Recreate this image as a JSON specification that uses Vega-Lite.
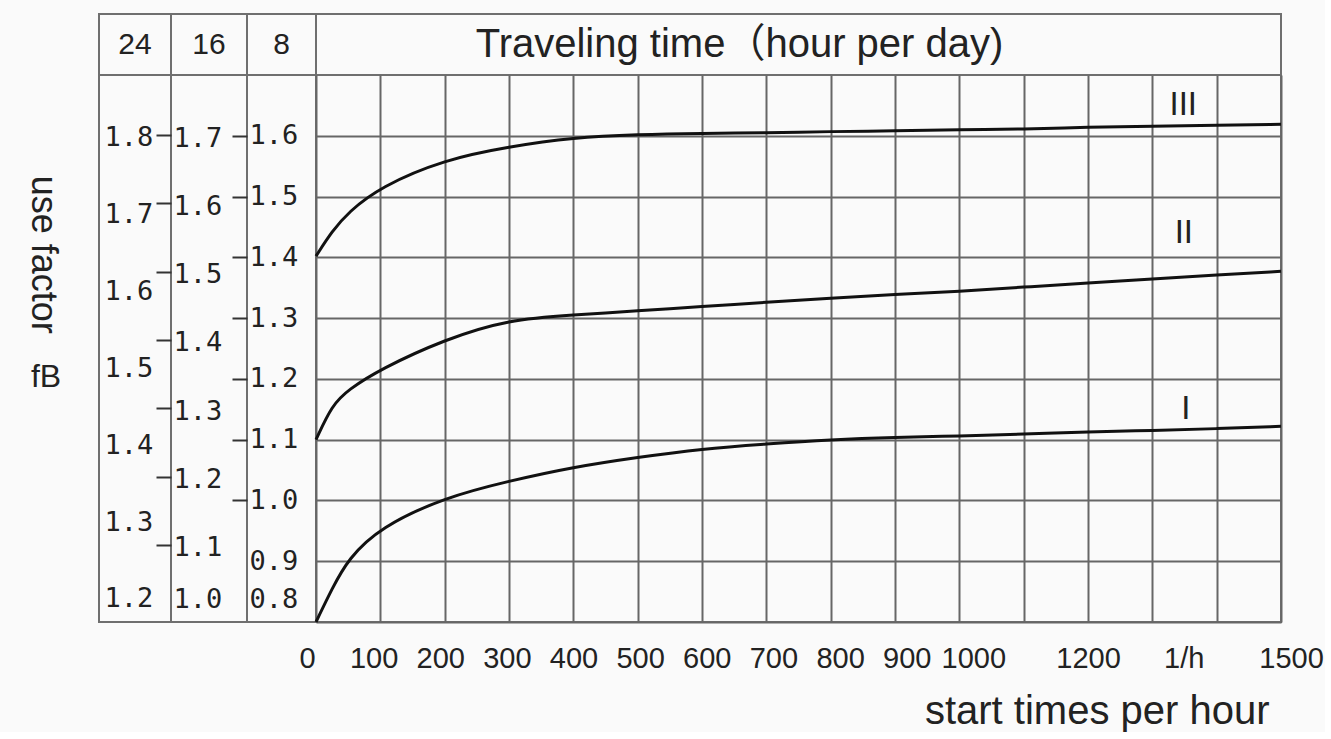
{
  "$schema": "https://vega.github.io/schema/vega-lite/v6.json",
  "background": "#fafafa",
  "padding": {"left": 0, "top": 13, "right": 0, "bottom": 0},
  "columns": 5,
  "spacing": 0,
  "bounds": "flush",
  "config": {
    "view": {"stroke": "#6f6f6f", "strokeWidth": 2},
    "font": "Liberation Sans"
  },
  "datasets": {
    "curves": [
      {"series": "III", "start": 0, "fB": 1.402},
      {"series": "III", "start": 25, "fB": 1.443},
      {"series": "III", "start": 50, "fB": 1.474},
      {"series": "III", "start": 100, "fB": 1.516},
      {"series": "III", "start": 200, "fB": 1.561},
      {"series": "III", "start": 300, "fB": 1.582},
      {"series": "III", "start": 400, "fB": 1.597},
      {"series": "III", "start": 500, "fB": 1.602},
      {"series": "III", "start": 600, "fB": 1.604},
      {"series": "III", "start": 700, "fB": 1.605},
      {"series": "III", "start": 800, "fB": 1.607},
      {"series": "III", "start": 900, "fB": 1.608},
      {"series": "III", "start": 1000, "fB": 1.610},
      {"series": "III", "start": 1100, "fB": 1.611},
      {"series": "III", "start": 1200, "fB": 1.614},
      {"series": "III", "start": 1300, "fB": 1.616},
      {"series": "III", "start": 1400, "fB": 1.617},
      {"series": "III", "start": 1500, "fB": 1.619},
      {"series": "II", "start": 0, "fB": 1.100},
      {"series": "II", "start": 25, "fB": 1.157},
      {"series": "II", "start": 50, "fB": 1.182},
      {"series": "II", "start": 100, "fB": 1.216},
      {"series": "II", "start": 200, "fB": 1.265},
      {"series": "II", "start": 300, "fB": 1.298},
      {"series": "II", "start": 400, "fB": 1.305},
      {"series": "II", "start": 500, "fB": 1.312},
      {"series": "II", "start": 600, "fB": 1.319},
      {"series": "II", "start": 700, "fB": 1.326},
      {"series": "II", "start": 800, "fB": 1.333},
      {"series": "II", "start": 900, "fB": 1.339},
      {"series": "II", "start": 1000, "fB": 1.344},
      {"series": "II", "start": 1100, "fB": 1.351},
      {"series": "II", "start": 1200, "fB": 1.358},
      {"series": "II", "start": 1300, "fB": 1.364},
      {"series": "II", "start": 1400, "fB": 1.371},
      {"series": "II", "start": 1500, "fB": 1.377},
      {"series": "I", "start": 0, "fB": 0.800},
      {"series": "I", "start": 25, "fB": 0.855},
      {"series": "I", "start": 50, "fB": 0.904},
      {"series": "I", "start": 100, "fB": 0.956},
      {"series": "I", "start": 200, "fB": 1.005},
      {"series": "I", "start": 300, "fB": 1.032},
      {"series": "I", "start": 400, "fB": 1.055},
      {"series": "I", "start": 500, "fB": 1.071},
      {"series": "I", "start": 600, "fB": 1.085},
      {"series": "I", "start": 700, "fB": 1.093},
      {"series": "I", "start": 800, "fB": 1.100},
      {"series": "I", "start": 900, "fB": 1.104},
      {"series": "I", "start": 1000, "fB": 1.106},
      {"series": "I", "start": 1100, "fB": 1.109},
      {"series": "I", "start": 1200, "fB": 1.113},
      {"series": "I", "start": 1300, "fB": 1.115},
      {"series": "I", "start": 1400, "fB": 1.118},
      {"series": "I", "start": 1500, "fB": 1.122}
    ],
    "curveLabels": [
      {"series": "III", "start": 1348, "fB": 1.651},
      {"series": "II", "start": 1349, "fB": 1.440},
      {"series": "I", "start": 1352, "fB": 1.150}
    ]
  },
  "concat": [
    {
      "width": 99, "height": 61,
      "view": {"stroke": null},
      "data": {"values": [{"label": ""}]},
      "mark": {"type": "text"},
      "encoding": {"text": {"field": "label"}}
    },
    {
      "width": 72, "height": 61,
      "data": {"values": [{"label": "24"}]},
      "mark": {"type": "text", "font": "Liberation Sans", "fontSize": 30, "color": "#222"},
      "encoding": {
        "y": {"field": "label", "type": "nominal", "axis": null},
        "text": {"field": "label"}
      }
    },
    {
      "width": 76, "height": 61,
      "data": {"values": [{"label": "16"}]},
      "mark": {"type": "text", "font": "Liberation Sans", "fontSize": 30, "color": "#222"},
      "encoding": {
        "y": {"field": "label", "type": "nominal", "axis": null},
        "text": {"field": "label"}
      }
    },
    {
      "width": 69, "height": 61,
      "data": {"values": [{"label": "8"}]},
      "mark": {"type": "text", "font": "Liberation Sans", "fontSize": 30, "color": "#222"},
      "encoding": {
        "y": {"field": "label", "type": "nominal", "axis": null},
        "text": {"field": "label"}
      }
    },
    {
      "width": 965, "height": 61,
      "data": {"values": [{"label": "Traveling time（hour per day)"}]},
      "mark": {"type": "text", "font": "Liberation Sans, Noto Sans CJK JP", "fontSize": 40, "color": "#222", "dx": -59},
      "encoding": {
        "y": {"field": "label", "type": "nominal", "axis": null},
        "text": {"field": "label"}
      }
    },
    {
      "width": 99, "height": 547,
      "view": {"stroke": null},
      "layer": [
        {
          "data": {"values": [{"label": "use factor", "fB": 1.648}]},
          "mark": {"type": "text", "angle": 90, "fontSize": 36, "font": "Liberation Sans", "color": "#222", "dy": 7},
          "encoding": {
            "y": {"field": "fB", "type": "quantitative", "scale": {"domain": [1.17, 1.882], "nice": false, "zero": false}, "axis": null},
            "text": {"field": "label"}
          }
        },
        {
          "data": {"values": [{"label": "fB", "fB": 1.489}]},
          "mark": {"type": "text", "fontSize": 32, "font": "Liberation Sans", "color": "#222", "dx": -3.5},
          "encoding": {
            "y": {"field": "fB", "type": "quantitative"},
            "text": {"field": "label"}
          }
        }
      ]
    },
    {
      "width": 72, "height": 547,
      "data": {"values": [{"fB": 1.2}, {"fB": 1.3}, {"fB": 1.4}, {"fB": 1.5}, {"fB": 1.6}, {"fB": 1.7}, {"fB": 1.8}]},
      "mark": {"type": "point", "opacity": 0},
      "encoding": {
        "y": {
          "field": "fB", "type": "quantitative",
          "scale": {"domain": [1.17, 1.882], "nice": false, "zero": false},
          "axis": {
            "orient": "left", "values": [1.2, 1.3, 1.4, 1.5, 1.6, 1.7, 1.8],
            "ticks": false, "tickSize": 0, "domain": false, "grid": false,
            "labelAlign": "left", "labelBaseline": "middle", "labelPadding": -5,
            "labelFont": "DejaVu Sans Mono", "labelFontSize": 27, "labelColor": "#222",
            "labelExpr": "format(datum.value, '.1f')", "labelOverlap": false, "labelFlush": false,
            "title": null
          }
        }
      }
    },
    {
      "width": 76, "height": 547,
      "data": {"values": [{"fB": 1.0}, {"fB": 1.1}, {"fB": 1.2}, {"fB": 1.3}, {"fB": 1.4}, {"fB": 1.5}, {"fB": 1.6}, {"fB": 1.7}]},
      "mark": {"type": "point", "opacity": 0},
      "encoding": {
        "y": {
          "field": "fB", "type": "quantitative",
          "scale": {"domain": [0.987, 1.788], "nice": false, "zero": false},
          "axis": {
            "orient": "left", "values": [1.0, 1.1, 1.2, 1.3, 1.4, 1.5, 1.6, 1.7],
            "ticks": true, "tickSize": 15, "tickWidth": 2, "tickColor": "#333",
            "tickOpacity": {"condition": {"test": "datum.value < 1.05", "value": 0}, "value": 1},
            "domain": false, "grid": false,
            "labelAlign": "left", "labelBaseline": "middle", "labelPadding": -17,
            "labelOffset": {"expr": "datum.value < 1.05 ? -14 : 3"},
            "labelFont": "DejaVu Sans Mono", "labelFontSize": 27, "labelColor": "#222",
            "labelExpr": "format(datum.value, '.1f')", "labelOverlap": false, "labelFlush": false,
            "title": null
          }
        }
      }
    },
    {
      "width": 69, "height": 547,
      "data": {"values": [{"fB": 0.8}, {"fB": 0.9}, {"fB": 1.0}, {"fB": 1.1}, {"fB": 1.2}, {"fB": 1.3}, {"fB": 1.4}, {"fB": 1.5}, {"fB": 1.6}]},
      "mark": {"type": "point", "opacity": 0},
      "encoding": {
        "y": {
          "field": "fB", "type": "quantitative",
          "scale": {"domain": [0.8, 1.7], "nice": false, "zero": false},
          "axis": {
            "orient": "left", "values": [0.8, 0.9, 1.0, 1.1, 1.2, 1.3, 1.4, 1.5, 1.6],
            "ticks": true, "tickSize": 15, "tickWidth": 2, "tickColor": "#333",
            "tickOpacity": {"condition": {"test": "datum.value < 0.95", "value": 0}, "value": 1},
            "domain": false, "grid": false,
            "labelAlign": "left", "labelBaseline": "middle", "labelPadding": -17,
            "labelOffset": {"expr": "datum.value < 0.85 ? -23 : 0"},
            "labelFont": "DejaVu Sans Mono", "labelFontSize": 27, "labelColor": "#222",
            "labelExpr": "format(datum.value, '.1f')", "labelOverlap": false, "labelFlush": false,
            "title": null
          }
        }
      }
    },
    {
      "width": 965, "height": 547,
      "layer": [
        {
          "data": {"name": "curves"},
          "mark": {"type": "line", "interpolate": "basis", "strokeWidth": 3, "color": "#111"},
          "encoding": {
            "x": {
              "field": "start", "type": "quantitative",
              "scale": {"domain": [0, 1500], "nice": false, "zero": false},
              "axis": {
                "values": [0, 100, 200, 300, 400, 500, 600, 700, 800, 900, 1000, 1100, 1200, 1300, 1400, 1500],
                "grid": true, "gridColor": "#666666", "gridWidth": 2,
                "ticks": false, "domain": false,
                "labelFont": "Liberation Sans", "labelFontSize": 29, "labelColor": "#222",
                "labelPadding": 22, "labelOverlap": false, "labelFlush": false, "labelBound": false,
                "labelExpr": "datum.value == 1100 || datum.value == 1300 ? '' : datum.value == 1400 ? '1/h' : format(datum.value, 'd')",
                "labelOffset": {"expr": "datum.value == 1400 ? -33 : datum.value == 1500 ? 10 : datum.value <= 1000 ? -9 + datum.value * 0.023 : 0"},
                "title": "start times per hour",
                "titleFont": "Liberation Sans", "titleFontSize": 40, "titleFontWeight": "normal", "titleColor": "#222",
                "titleX": 953, "titleY": 101, "titleAlign": "right", "titleBaseline": "alphabetic"
              }
            },
            "y": {
              "field": "fB", "type": "quantitative",
              "scale": {"domain": [0.8, 1.7], "nice": false, "zero": false},
              "axis": {
                "values": [0.8, 0.9, 1.0, 1.1, 1.2, 1.3, 1.4, 1.5, 1.6],
                "grid": true, "gridColor": "#666666", "gridWidth": 2,
                "labels": false, "ticks": false, "domain": false, "title": null
              }
            },
            "detail": {"field": "series"}
          }
        },
        {
          "data": {"name": "curveLabels"},
          "mark": {"type": "text", "font": "Liberation Sans Narrow, Liberation Sans", "fontSize": 33, "color": "#222", "baseline": "middle"},
          "encoding": {
            "x": {"field": "start", "type": "quantitative"},
            "y": {"field": "fB", "type": "quantitative"},
            "text": {"field": "series"}
          }
        }
      ]
    }
  ]
}
